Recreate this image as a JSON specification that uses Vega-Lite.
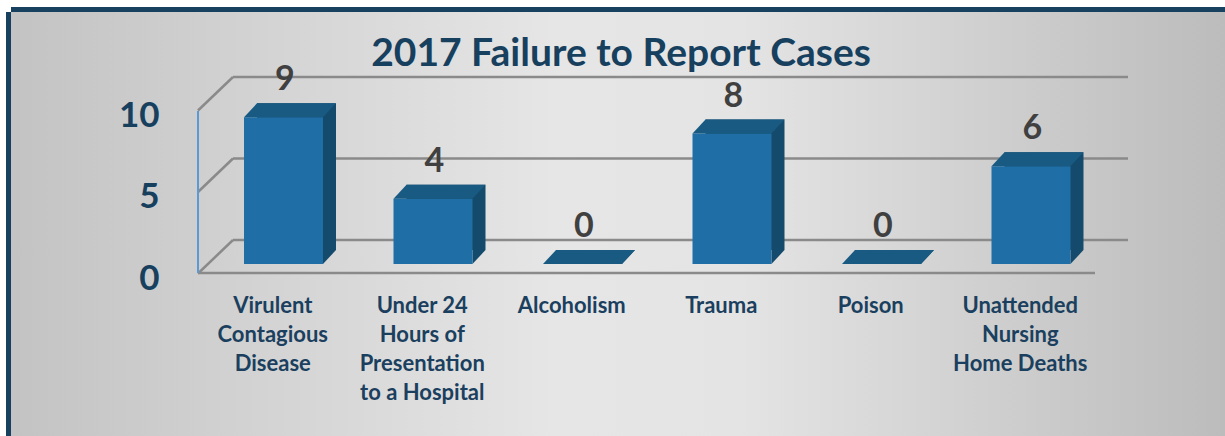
{
  "$schema": "https://vega.github.io/schema/vega-lite/v6.json",
  "width": 1214,
  "height": 424,
  "autosize": "none",
  "padding": {"left": 11, "top": 12, "right": 0, "bottom": 0},
  "background": "white",
  "config": {
    "view": {"stroke": "#17415f", "strokeWidth": 10, "strokeDash": [1214, 1638, 424, 0]},
    "font": "Lato"
  },
  "title": {
    "text": "2017 Failure to Report Cases",
    "font": "Lato",
    "fontSize": 39,
    "fontWeight": "bold",
    "color": "#17405f",
    "anchor": "middle",
    "offset": -93,
    "baseline": "alphabetic",
    "dx": 3
  },
  "datasets": {
    "bars": [
      {"cat": "Virulent Contagious Disease", "n": 9},
      {"cat": "Under 24 Hours of Presentation to a Hospital", "n": 4},
      {"cat": "Alcoholism", "n": 0},
      {"cat": "Trauma", "n": 8},
      {"cat": "Poison", "n": 0},
      {"cat": "Unattended Nursing Home Deaths", "n": 6}
    ],
    "grid": [
      {"v": 0, "first": "Virulent Contagious Disease", "last": "Unattended Nursing Home Deaths"},
      {"v": 5, "first": "Virulent Contagious Disease", "last": "Unattended Nursing Home Deaths"},
      {"v": 10, "first": "Virulent Contagious Disease", "last": "Unattended Nursing Home Deaths"}
    ],
    "wall": [
      {"lo": 0, "hi": 10, "first": "Virulent Contagious Disease", "last": "Unattended Nursing Home Deaths"}
    ],
    "bg": [{"k": 1}]
  },
  "layer": [
    {
      "data": {"name": "bg"},
      "mark": {
        "type": "rect",
        "color": {
          "gradient": "linear",
          "x1": 0, "x2": 1, "y1": 0, "y2": 0,
          "stops": [
            {"offset": 0, "color": "#c3c3c3"},
            {"offset": 0.45, "color": "#e6e6e6"},
            {"offset": 0.6, "color": "#e4e4e4"},
            {"offset": 1, "color": "#bcbcbc"}
          ]
        }
      },
      "encoding": {}
    },
    {
      "data": {"name": "grid"},
      "mark": {"type": "rule", "color": "#8a8a8a", "strokeWidth": 2.5, "xOffset": -39.75, "x2Offset": 107.75, "yOffset": -24},
      "encoding": {
        "x": {
          "field": "first",
          "type": "nominal",
          "bandPosition": 0.5,
          "sort": null,
          "scale": {
            "domain": ["Virulent Contagious Disease", "Under 24 Hours of Presentation to a Hospital", "Alcoholism", "Trauma", "Poison", "Unattended Nursing Home Deaths"],
            "range": [187, 1084],
            "paddingInner": 0,
            "paddingOuter": 0
          },
          "axis": {
            "title": null,
            "zindex": 2,
            "orient": "bottom",
            "domain": false,
            "ticks": false,
            "tickSize": 0,
            "grid": false,
            "labelPadding": -141,
            "offset": 0,
            "labelFont": "Lato",
            "labelFontWeight": "bold",
            "labelFontSize": 22,
            "labelColor": "#1b3f5e",
            "labelLineHeight": 29,
            "labelBaseline": "top",
            "labelAngle": 0,
            "labelAlign": "center",
            "labelLimit": 0,
            "labelOverlap": false,
            "labelBound": false,
            "labelExpr": "datum.value == 'Virulent Contagious Disease' ? ['Virulent', 'Contagious', 'Disease'] : datum.value == 'Under 24 Hours of Presentation to a Hospital' ? ['Under 24', 'Hours of', 'Presentation', 'to a Hospital'] : datum.value == 'Unattended Nursing Home Deaths' ? ['Unattended', 'Nursing', 'Home Deaths'] : datum.value"
          }
        },
        "x2": {"field": "last"},
        "y": {
          "field": "v",
          "type": "quantitative",
          "scale": {"domain": [0, 10], "range": [252, 89], "nice": false, "zero": false},
          "axis": {
            "title": null,
            "zindex": 2,
            "orient": "left",
            "values": [0, 5, 10],
            "grid": false,
            "domain": false,
            "ticks": false,
            "tickSize": 0,
            "labelPadding": -148,
            "offset": 0,
            "labelFont": "Lato",
            "labelFontWeight": "bold",
            "labelFontSize": 35,
            "labelColor": "#17405f",
            "labelOffset": 14,
            "labelBaseline": "middle",
            "labelAlign": "right",
            "labelFlush": false,
            "labelOverlap": false
          }
        }
      }
    },
    {
      "data": {"name": "grid"},
      "mark": {"type": "rule", "color": "#8a8a8a", "strokeWidth": 2.5, "xOffset": -74.75, "x2Offset": -39.75, "yOffset": 9.5, "y2Offset": -24},
      "encoding": {
        "x": {"field": "first", "type": "nominal", "bandPosition": 0.5},
        "x2": {"field": "first"},
        "y": {"field": "v", "type": "quantitative"},
        "y2": {"field": "v"}
      }
    },
    {
      "data": {"name": "wall"},
      "mark": {"type": "rule", "color": "#8a8a8a", "strokeWidth": 2.5, "xOffset": -74.75, "x2Offset": 74.75, "yOffset": 9},
      "encoding": {
        "x": {"field": "first", "type": "nominal", "bandPosition": 0.5},
        "x2": {"field": "last"},
        "y": {"field": "lo", "type": "quantitative"}
      }
    },
    {
      "data": {"name": "wall"},
      "mark": {"type": "rule", "color": "#5b9bd5", "strokeWidth": 2, "xOffset": -74.75, "yOffset": 10, "y2Offset": 9},
      "encoding": {
        "x": {"field": "first", "type": "nominal", "bandPosition": 0.5},
        "y": {"field": "hi", "type": "quantitative"},
        "y2": {"field": "lo"}
      }
    },
    {
      "data": {"name": "bars"},
      "mark": {"type": "bar", "color": "#144a6b", "width": 79, "xOffset": 23.75, "x2Offset": 23.75, "yOffset": -14, "y2Offset": -14},
      "encoding": {
        "x": {"field": "cat", "type": "nominal"},
        "y": {"field": "n", "type": "quantitative"},
        "y2": {"datum": 0}
      }
    },
    {
      "data": {"name": "bars"},
      "mark": {"type": "point", "shape": "M0.717,-0.152L1,-0.152L0.717,0.152Z", "size": 8464, "filled": true, "opacity": 1, "strokeWidth": 0, "color": "#144a6b", "xOffset": 17.25, "yOffset": -7},
      "encoding": {
        "x": {"field": "cat", "type": "nominal"},
        "y": {"datum": 0, "type": "quantitative"}
      }
    },
    {
      "data": {"name": "bars"},
      "mark": {"type": "bar", "color": "#1f6fa6", "width": 79, "xOffset": 10.75, "x2Offset": 10.75},
      "encoding": {
        "x": {"field": "cat", "type": "nominal"},
        "y": {"field": "n", "type": "quantitative"}
      }
    },
    {
      "data": {"name": "bars"},
      "mark": {"type": "point", "shape": "M-1,0.152L0.717,0.152L1,-0.152L-0.717,-0.152Z", "size": 8464, "filled": true, "opacity": 1, "strokeWidth": 0, "color": "#185a81", "xOffset": 17.25, "yOffset": -7},
      "encoding": {
        "x": {"field": "cat", "type": "nominal"},
        "y": {"field": "n", "type": "quantitative"}
      }
    },
    {
      "data": {"name": "bars"},
      "mark": {"type": "text", "font": "Lato", "fontWeight": "bold", "fontSize": 34, "color": "#404040", "baseline": "middle", "align": "center", "xOffset": 12, "yOffset": -37},
      "encoding": {
        "x": {"field": "cat", "type": "nominal"},
        "y": {"field": "n", "type": "quantitative"},
        "text": {"field": "n", "type": "quantitative"}
      }
    }
  ]
}
